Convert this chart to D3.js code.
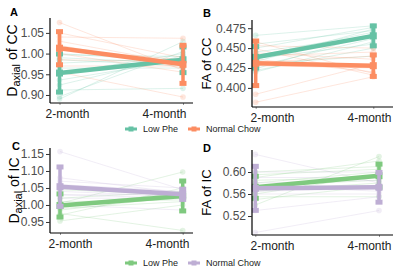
<!DOCTYPE html>
<html><head><meta charset="utf-8">
<script src="https://cdn.jsdelivr.net/npm/d3@7"></script>
<style>body{margin:0;background:#fff}svg{display:block;font-family:"Liberation Sans",Arial,sans-serif}</style>
</head><body><svg id="c" width="400" height="270"></svg>
<script>
const timepoints = ["2-month", "4-month"];
const groups = ["Low Phe", "Normal Chow"];
// Panel A: Daxial of CC (per subject, [2-month, 4-month])
const aLowPhe2 = [1.00, 0.997, 0.99, 0.985, 0.977, 0.965, 0.952, 0.936, 0.924, 0.912, 0.896, 0.89];
const aLowPhe4 = [0.981, 0.993, 0.977, 0.97, 0.989, 0.965, 1.0, 0.985, 0.995, 0.916, 1.005, 1.029];
const aChow2 = [1.075, 1.05, 1.04, 1.03, 1.02, 1.01, 1.0, 0.985, 0.97, 0.955];
const aChow4 = [0.96, 0.99, 1.037, 0.975, 0.965, 0.985, 0.955, 0.98, 0.97, 0.895];
const aMean = {"Low Phe": [0.953, 0.985], "Normal Chow": [1.013, 0.974]};
const aErr = {"Low Phe": [0.046, 0.031], "Normal Chow": [0.040, 0.046]};
const aTicks = [0.90, 0.95, 1.00, 1.05];
// Panel B: FA of CC
const bLowPhe2 = [0.466, 0.455, 0.45, 0.445, 0.44, 0.437, 0.433, 0.43, 0.427, 0.424, 0.422, 0.42];
const bLowPhe4 = [0.478, 0.472, 0.476, 0.465, 0.47, 0.455, 0.474, 0.44, 0.462, 0.468, 0.45, 0.458];
const bChow2 = [0.458, 0.453, 0.449, 0.444, 0.44, 0.436, 0.432, 0.428, 0.392, 0.382];
const bChow4 = [0.418, 0.45, 0.416, 0.436, 0.445, 0.42, 0.44, 0.425, 0.43, 0.414];
const bMean = {"Low Phe": [0.4384, 0.4654], "Normal Chow": [0.4309, 0.4279]};
const bErr = {"Low Phe": [0.0135, 0.0125], "Normal Chow": [0.028, 0.0135]};
const bTicks = [0.400, 0.425, 0.450, 0.475];
// Panel C: Daxial of IC
const cLowPhe2 = [1.045, 1.02, 1.01, 1.005, 1.0, 0.995, 0.99, 0.985, 0.975, 0.97, 0.953];
const cLowPhe4 = [1.03, 1.04, 1.015, 1.097, 1.035, 1.02, 1.01, 1.025, 0.925, 1.05, 1.0];
const cChow2 = [1.157, 1.08, 1.07, 1.06, 1.05, 1.04, 1.03, 1.02, 1.0, 1.03];
const cChow4 = [1.045, 1.035, 1.05, 1.04, 1.03, 1.025, 1.03, 1.02, 0.985, 1.02];
const cMean = {"Low Phe": [0.9985, 1.0265], "Normal Chow": [1.0538, 1.0314]};
const cErr = {"Low Phe": [0.034, 0.044], "Normal Chow": [0.058, 0.015]};
const cTicks = [0.95, 1.00, 1.05, 1.10, 1.15];
// Panel D: FA of IC
const dLowPhe2 = [0.60, 0.595, 0.59, 0.585, 0.58, 0.575, 0.57, 0.565, 0.56, 0.555, 0.55, 0.54];
const dLowPhe4 = [0.61, 0.605, 0.62, 0.59, 0.6, 0.585, 0.575, 0.58, 0.595, 0.555, 0.575, 0.628];
const dChow2 = [0.632, 0.60, 0.59, 0.58, 0.575, 0.57, 0.565, 0.56, 0.53, 0.49];
const dChow4 = [0.58, 0.60, 0.59, 0.585, 0.565, 0.575, 0.57, 0.56, 0.555, 0.53];
const dMean = {"Low Phe": [0.5722, 0.5933], "Normal Chow": [0.5703, 0.5722]};
const dErr = {"Low Phe": [0.020, 0.021], "Normal Chow": [0.040, 0.027]};
const dTicks = [0.52, 0.56, 0.60];

const svg = d3.select("#c");
const panels = [
  {letter:"A", lx:10, ly:16, left:50, right:193, top:18, bottom:103, p2:59.5, p4:183, l2:67, l4:164,
   dom:[0.8806, 1.086], ticks:aTicks, fmt:d3.format(".2f"), title:["D","axial"," of CC"], tx:17,
   subj:[[aLowPhe2,aLowPhe4],[aChow2,aChow4]], mean:aMean, err:aErr, colors:["#66C2A5","#FC8D62"]},
  {letter:"B", lx:203, ly:17, left:252, right:393, top:20, bottom:107, p2:255.7, p4:373.3, l2:272, l4:369,
   dom:[0.376, 0.4853], ticks:bTicks, fmt:d3.format(".3f"), title:["FA of CC"], tx:211,
   subj:[[bLowPhe2,bLowPhe4],[bChow2,bChow4]], mean:bMean, err:bErr, colors:["#66C2A5","#FC8D62"]},
  {letter:"C", lx:12, ly:150, left:50, right:193, top:148, bottom:233, p2:60, p4:182.7, l2:70, l4:167,
   dom:[0.9176, 1.1676], ticks:cTicks, fmt:d3.format(".2f"), title:["D","axial"," of IC"], tx:19,
   subj:[[cLowPhe2,cLowPhe4],[cChow2,cChow4]], mean:cMean, err:cErr, colors:["#7FC97F","#BEAED4"]},
  {letter:"D", lx:203, ly:152, left:252, right:393, top:150, bottom:235, p2:255.3, p4:379, l2:272, l4:369,
   dom:[0.4855, 0.64], ticks:dTicks, fmt:d3.format(".2f"), title:["FA of IC"], tx:211,
   subj:[[dLowPhe2,dLowPhe4],[dChow2,dChow4]], mean:dMean, err:dErr, colors:["#7FC97F","#BEAED4"]}
];

panels.forEach(p => {
  const g = svg.append("g");
  const x = d3.scalePoint().domain(timepoints).range([p.p2, p.p4]);
  const y = d3.scaleLinear().domain(p.dom).range([p.bottom, p.top]);
  const line = d3.line().x(d => x(d.t)).y(d => y(d.v));
  // subject lines
  p.subj.forEach((pair, gi) => {
    const col = p.colors[gi];
    pair[0].forEach((v2, i) => {
      const pts = [{t:timepoints[0], v:v2}, {t:timepoints[1], v:pair[1][i]}];
      g.append("path").attr("d", line(pts)).attr("fill","none")
        .attr("stroke", col).attr("stroke-opacity",0.22).attr("stroke-width",1);
      pts.forEach(pt => g.append("circle").attr("cx", x(pt.t)).attr("cy", y(pt.v)).attr("r",2.8)
        .attr("fill", col).attr("fill-opacity",0.22));
    });
  });
  // means & error bars
  groups.forEach((gr, gi) => {
    const col = p.colors[gi];
    const pts = timepoints.map((t, i) => ({t, v:p.mean[gr][i]}));
    g.append("path").attr("d", line(pts)).attr("fill","none").attr("stroke", col).attr("stroke-width",4.5);
    timepoints.forEach((t, i) => {
      const m = p.mean[gr][i], e = p.err[gr][i], cx = x(t);
      g.append("line").attr("x1",cx).attr("x2",cx).attr("y1",y(m+e)).attr("y2",y(m-e))
        .attr("stroke",col).attr("stroke-width",3.5);
      [m+e, m-e].forEach(v => g.append("rect").attr("x",cx-3.5).attr("y",y(v)-2.5)
        .attr("width",7).attr("height",5).attr("fill",col));
      g.append("rect").attr("x",cx-3.5).attr("y",y(m)-3.5).attr("width",7).attr("height",7).attr("fill",col);
    });
  });
  // axes
  const ya = g.append("g").attr("transform",`translate(${p.left},0)`)
    .call(d3.axisLeft(y).tickValues(p.ticks).tickFormat(p.fmt).tickSize(4).tickPadding(2));
  ya.select(".domain").attr("d", `M0,${p.top}V${p.bottom}`).attr("stroke","#000").attr("stroke-width",1.2);
  ya.selectAll(".tick line").attr("stroke","#333");
  ya.selectAll(".tick text").attr("fill","#4D4D4D").style("font-size","12px");
  // small ticks at data positions
  const xt = g.append("g").attr("transform",`translate(0,${p.bottom})`)
    .call(d3.axisBottom(x).tickSize(2).tickFormat(""));
  xt.select(".domain").remove();
  xt.selectAll(".tick line").attr("stroke","#999");
  // labelled axis
  const xs = d3.scalePoint().domain(timepoints).range([p.l2, p.l4]);
  const xa = g.append("g").attr("transform",`translate(0,${p.bottom})`)
    .call(d3.axisBottom(xs).tickSize(0).tickPadding(6));
  xa.select(".domain").attr("d", `M${p.left},0H${p.right}`).attr("stroke","#000").attr("stroke-width",1.2);
  xa.selectAll(".tick text").attr("fill","#222").style("font-size","12px");
  // y title
  const cy = (p.top + p.bottom) / 2;
  const t = g.append("text").attr("transform",`translate(${p.tx},${cy}) rotate(-90)`)
    .attr("text-anchor","middle").style("font-size", p.title.length === 3 ? "14px" : "13px").attr("fill","#000");
  if (p.title.length === 3) {
    t.append("tspan").text(p.title[0]);
    t.append("tspan").attr("dy",3).style("font-size","11px").text(p.title[1]);
    t.append("tspan").attr("dy",-3).text(p.title[2]);
  } else t.text(p.title[0]);
  // letter
  g.append("text").attr("x",p.lx).attr("y",p.ly).style("font-size","11px").style("font-weight","bold").text(p.letter);
});

// legends
[{y:129, colors:["#66C2A5","#FC8D62"]}, {y:263, colors:["#7FC97F","#BEAED4"]}].forEach(L => {
  const lg = svg.append("g");
  const xs = [125, 188];
  groups.forEach((gr, i) => {
    lg.append("line").attr("x1",xs[i]).attr("x2",xs[i]+12).attr("y1",L.y).attr("y2",L.y)
      .attr("stroke",L.colors[i]).attr("stroke-width",3);
    lg.append("rect").attr("x",xs[i]+3.5).attr("y",L.y-2.5).attr("width",5).attr("height",5).attr("fill",L.colors[i]);
    lg.append("text").attr("x",xs[i]+18).attr("y",L.y+3).style("font-size","9px").attr("fill","#222").text(gr);
  });
});
</script></body></html>
